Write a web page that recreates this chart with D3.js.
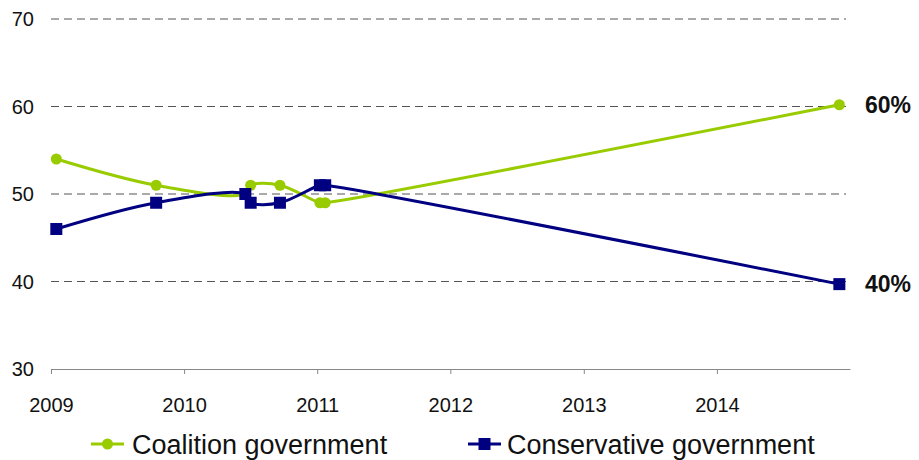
<!DOCTYPE html>
<html>
<head>
<meta charset="utf-8">
<script src="https://cdn.jsdelivr.net/npm/d3@7"></script>
<style>
  body { margin: 0; background: #fff; }
  svg { display: block; font-family: "Liberation Sans", Arial, sans-serif; }
</style>
</head>
<body>
<svg id="chart" width="919" height="460"></svg>
<script>
// survey dates as decimal years
const coalitionDates = [2009.04, 2009.79, 2010.46, 2010.5, 2010.72, 2011.02, 2011.06, 2014.92];
const coalitionValues = [54, 51, 50, 51, 51, 49, 49, 60.2];
const conservativeDates = [2009.04, 2009.79, 2010.46, 2010.5, 2010.72, 2011.02, 2011.06, 2014.92];
const conservativeValues = [46, 49, 50, 49, 49, 51, 51, 39.7];
const yearTicks = [2009, 2010, 2011, 2012, 2013, 2014];
const yTicks = [30, 40, 50, 60, 70];
const seriesNames = ['Coalition government', 'Conservative government'];
const endLabels = ['60%', '40%'];

const green = '#99cc00';
const navy = '#000080';

const svg = d3.select('svg#chart');
const margin = { left: 51, right: 850, top: 19, bottom: 369 };

const toDate = y => {
  const yr = Math.floor(y);
  const start = new Date(yr, 0, 1), end = new Date(yr + 1, 0, 1);
  return new Date(+start + (y - yr) * (end - start));
};

const x = d3.scaleTime()
  .domain([new Date(2009, 0, 1), new Date(2015, 0, 1)])
  .range([margin.left, margin.right]);
const y = d3.scaleLinear().domain([30, 70]).range([margin.bottom, margin.top]);

// gridlines
svg.append('g')
  .selectAll('line')
  .data(yTicks.filter(d => d > 30))
  .enter().append('line')
  .attr('x1', margin.left).attr('x2', 846)
  .attr('y1', d => y(d)).attr('y2', d => y(d))
  .attr('stroke', '#555').attr('stroke-width', 1)
  .attr('stroke-dasharray', '8,5');

// y labels
svg.append('g')
  .selectAll('text')
  .data(yTicks)
  .enter().append('text')
  .attr('x', 34).attr('y', d => y(d))
  .attr('dy', '0.36em')
  .attr('text-anchor', 'end')
  .attr('font-size', 20)
  .attr('fill', '#111')
  .text(d => d);

// x axis
const xAxis = svg.append('g')
  .attr('transform', `translate(0,${margin.bottom})`)
  .call(d3.axisBottom(x)
    .tickValues(yearTicks.map(d => new Date(d, 0, 1)))
    .tickFormat(d3.timeFormat('%Y'))
    .tickSize(5)
    .tickPadding(24)
    .tickSizeOuter(0));
xAxis.select('.domain').attr('stroke', '#888');
xAxis.selectAll('.tick line').attr('stroke', '#888');
xAxis.selectAll('.tick text')
  .attr('font-size', 20)
  .attr('font-family', '"Liberation Sans", Arial, sans-serif')
  .attr('fill', '#111');

const line = d3.line()
  .x(d => x(toDate(d[0])))
  .y(d => y(d[1]))
  .curve(d3.curveCatmullRom.alpha(0.5));

const coalition = d3.zip(coalitionDates, coalitionValues);
const conservative = d3.zip(conservativeDates, conservativeValues);

svg.append('path')
  .datum(coalition)
  .attr('d', line)
  .attr('fill', 'none')
  .attr('stroke', green)
  .attr('stroke-width', 3);

svg.append('g')
  .selectAll('circle')
  .data(coalition)
  .enter().append('circle')
  .attr('cx', d => x(toDate(d[0])))
  .attr('cy', d => y(d[1]))
  .attr('r', 5.5)
  .attr('fill', green);

svg.append('path')
  .datum(conservative)
  .attr('d', line)
  .attr('fill', 'none')
  .attr('stroke', navy)
  .attr('stroke-width', 3);

svg.append('g')
  .selectAll('rect')
  .data(conservative)
  .enter().append('rect')
  .attr('x', d => x(toDate(d[0])) - 6)
  .attr('y', d => y(d[1]) - 6)
  .attr('width', 12).attr('height', 12)
  .attr('fill', navy);

// end labels
svg.append('text')
  .attr('x', 865).attr('y', y(coalitionValues[coalitionValues.length - 1]))
  .attr('dy', '0.36em')
  .attr('font-size', 23).attr('font-weight', 'bold')
  .attr('fill', '#111')
  .text(endLabels[0]);
svg.append('text')
  .attr('x', 865).attr('y', y(conservativeValues[conservativeValues.length - 1]))
  .attr('dy', '0.36em')
  .attr('font-size', 23).attr('font-weight', 'bold')
  .attr('fill', '#111')
  .text(endLabels[1]);

// legend
const legend = svg.append('g').attr('transform', 'translate(0,444)');
const lg1 = legend.append('g').attr('transform', 'translate(91,0)');
lg1.append('line').attr('x1', 0).attr('x2', 33).attr('stroke', green).attr('stroke-width', 3);
lg1.append('circle').attr('cx', 16.5).attr('r', 5.5).attr('fill', green);
lg1.append('text').attr('x', 41).attr('dy', '0.36em').attr('font-size', 27).attr('fill', '#111').text(seriesNames[0]);

const lg2 = legend.append('g').attr('transform', 'translate(468,0)');
lg2.append('line').attr('x1', 0).attr('x2', 33).attr('stroke', navy).attr('stroke-width', 3);
lg2.append('rect').attr('x', 10.5).attr('y', -6).attr('width', 12).attr('height', 12).attr('fill', navy);
lg2.append('text').attr('x', 39).attr('dy', '0.36em').attr('font-size', 27).attr('fill', '#111').text(seriesNames[1]);
</script>
</body>
</html>
